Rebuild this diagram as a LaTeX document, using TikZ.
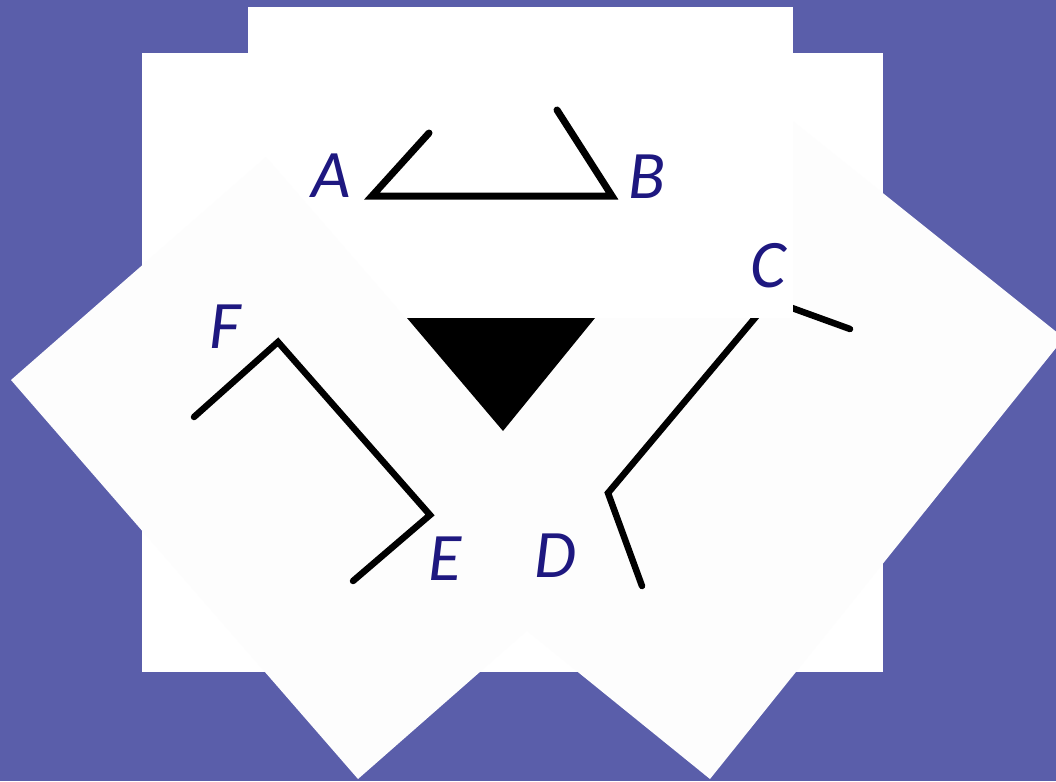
\documentclass[tikz,border=0pt]{standalone}
\usepackage{fontspec}
\setmainfont{Carlito}
\definecolor{bgblue}{RGB}{90,94,170}
\definecolor{offwhite}{RGB}{253,253,253}
\definecolor{lblnavy}{RGB}{30,24,128}
\begin{document}
\begin{tikzpicture}[x=1pt,y=-1pt,
  lbl/.style={text=lblnavy,inner sep=0pt,font=\fontsize{68}{68}\selectfont\itshape},
  stroke/.style={draw=black,line width=6.5pt,line cap=round,line join=miter}]
\useasboundingbox (0,0) rectangle (1056,781);
\fill[bgblue] (0,0) rectangle (1056,781);
% big white sheet
\fill[white] (142,53) rectangle (883,672);
% right rotated sheet
\fill[offwhite] (1064,338) -- (710,779) -- (337,477) -- (689,38) -- cycle;
\coordinate (cEnd) at (850,329);
\coordinate (cV) at (770,300);
\coordinate (dV) at (608,493);
\coordinate (dEnd) at (642,586);
\draw[stroke] (cEnd) -- (cV) -- (dV) -- (dEnd);
% top white sheet
\fill[white] (248,7) rectangle (793,318);
% left rotated sheet
\fill[offwhite] (11,380) -- (266,157) -- (612,556) -- (358,779) -- cycle;
% black triangle
\fill[black] (407,318) -- (595,318) -- (503,431) -- cycle;
% A-B figure
\coordinate (aEnd) at (429,133);
\coordinate (aV) at (372,196);
\coordinate (bV) at (612,196);
\coordinate (bEnd) at (557,110);
\draw[stroke,line width=7pt] (aEnd) -- (aV) -- (bV) -- (bEnd);
% F-E figure
\coordinate (fEnd) at (194,417);
\coordinate (fV) at (278,342);
\coordinate (eV) at (430,515);
\coordinate (eEnd) at (353,581);
\draw[stroke] (fEnd) -- (fV) -- (eV) -- (eEnd);
% labels
\node[lbl] (lA) at (331,176) {A};
\node[lbl] (lB) at (647,177) {B};
\node[lbl] (lC) at (768,266) {C};
\node[lbl] (lD) at (555,556) {D};
\node[lbl] (lE) at (445,559) {E};
\node[lbl] (lF) at (225,327) {F};
\end{tikzpicture}
\end{document}
